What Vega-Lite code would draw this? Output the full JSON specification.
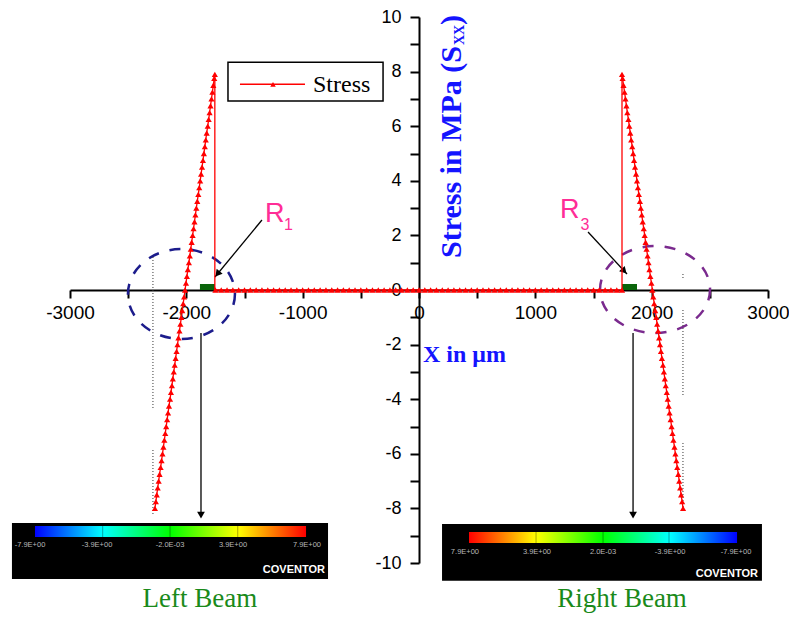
{
  "$schema": "https://vega.github.io/schema/vega-lite/v6.json",
  "width": 698,
  "height": 546,
  "autosize": {"type": "none"},
  "padding": {"left": 70, "top": 17, "right": 21, "bottom": 56},
  "background": "white",
  "config": {"view": {"stroke": null}},
  "datasets": {
    "curve": [
      {"x":-2270,"y":-8,"s":"L"},{"x":-2262,"y":-7.75,"s":"L"},{"x":-2254,"y":-7.5,"s":"L"},{"x":-2246,"y":-7.25,"s":"L"},
      {"x":-2238,"y":-7,"s":"L"},{"x":-2230,"y":-6.75,"s":"L"},{"x":-2221,"y":-6.5,"s":"L"},{"x":-2213,"y":-6.25,"s":"L"},
      {"x":-2205,"y":-6,"s":"L"},{"x":-2197,"y":-5.75,"s":"L"},{"x":-2189,"y":-5.5,"s":"L"},{"x":-2181,"y":-5.25,"s":"L"},
      {"x":-2173,"y":-5,"s":"L"},{"x":-2165,"y":-4.75,"s":"L"},{"x":-2157,"y":-4.5,"s":"L"},{"x":-2149,"y":-4.25,"s":"L"},
      {"x":-2140,"y":-4,"s":"L"},{"x":-2132,"y":-3.75,"s":"L"},{"x":-2124,"y":-3.5,"s":"L"},{"x":-2116,"y":-3.25,"s":"L"},
      {"x":-2108,"y":-3,"s":"L"},{"x":-2100,"y":-2.75,"s":"L"},{"x":-2092,"y":-2.5,"s":"L"},{"x":-2084,"y":-2.25,"s":"L"},
      {"x":-2076,"y":-2,"s":"L"},{"x":-2068,"y":-1.75,"s":"L"},{"x":-2059,"y":-1.5,"s":"L"},{"x":-2051,"y":-1.25,"s":"L"},
      {"x":-2043,"y":-1,"s":"L"},{"x":-2035,"y":-0.75,"s":"L"},{"x":-2027,"y":-0.5,"s":"L"},{"x":-2019,"y":-0.25,"s":"L"},
      {"x":-2011,"y":0,"s":"L"},{"x":-2003,"y":0.25,"s":"L"},{"x":-1995,"y":0.5,"s":"L"},{"x":-1987,"y":0.75,"s":"L"},
      {"x":-1978,"y":1,"s":"L"},{"x":-1970,"y":1.25,"s":"L"},{"x":-1962,"y":1.5,"s":"L"},{"x":-1954,"y":1.75,"s":"L"},
      {"x":-1946,"y":2,"s":"L"},{"x":-1938,"y":2.25,"s":"L"},{"x":-1930,"y":2.5,"s":"L"},{"x":-1922,"y":2.75,"s":"L"},
      {"x":-1914,"y":3,"s":"L"},{"x":-1906,"y":3.25,"s":"L"},{"x":-1897,"y":3.5,"s":"L"},{"x":-1889,"y":3.75,"s":"L"},
      {"x":-1881,"y":4,"s":"L"},{"x":-1873,"y":4.25,"s":"L"},{"x":-1865,"y":4.5,"s":"L"},{"x":-1857,"y":4.75,"s":"L"},
      {"x":-1849,"y":5,"s":"L"},{"x":-1841,"y":5.25,"s":"L"},{"x":-1833,"y":5.5,"s":"L"},{"x":-1825,"y":5.75,"s":"L"},
      {"x":-1816,"y":6,"s":"L"},{"x":-1808,"y":6.25,"s":"L"},{"x":-1800,"y":6.5,"s":"L"},{"x":-1792,"y":6.75,"s":"L"},
      {"x":-1784,"y":7,"s":"L"},{"x":-1776,"y":7.25,"s":"L"},{"x":-1768,"y":7.5,"s":"L"},{"x":-1760,"y":7.75,"s":"L"},
      {"x":-1755,"y":7.9,"s":"L"},
      {"x":-1755,"y":7.9,"s":"V1"},{"x":-1755,"y":0,"s":"V1"},
      {"x":-1750,"y":0,"s":"F"},{"x":-1700,"y":0,"s":"F"},{"x":-1650,"y":0,"s":"F"},{"x":-1600,"y":0,"s":"F"},
      {"x":-1550,"y":0,"s":"F"},{"x":-1500,"y":0,"s":"F"},{"x":-1450,"y":0,"s":"F"},{"x":-1400,"y":0,"s":"F"},
      {"x":-1350,"y":0,"s":"F"},{"x":-1300,"y":0,"s":"F"},{"x":-1250,"y":0,"s":"F"},{"x":-1200,"y":0,"s":"F"},
      {"x":-1150,"y":0,"s":"F"},{"x":-1100,"y":0,"s":"F"},{"x":-1050,"y":0,"s":"F"},{"x":-1000,"y":0,"s":"F"},
      {"x":-950,"y":0,"s":"F"},{"x":-900,"y":0,"s":"F"},{"x":-850,"y":0,"s":"F"},{"x":-800,"y":0,"s":"F"},
      {"x":-750,"y":0,"s":"F"},{"x":-700,"y":0,"s":"F"},{"x":-650,"y":0,"s":"F"},{"x":-600,"y":0,"s":"F"},
      {"x":-550,"y":0,"s":"F"},{"x":-500,"y":0,"s":"F"},{"x":-450,"y":0,"s":"F"},{"x":-400,"y":0,"s":"F"},
      {"x":-350,"y":0,"s":"F"},{"x":-300,"y":0,"s":"F"},{"x":-250,"y":0,"s":"F"},{"x":-200,"y":0,"s":"F"},
      {"x":-150,"y":0,"s":"F"},{"x":-100,"y":0,"s":"F"},{"x":-50,"y":0,"s":"F"},{"x":0,"y":0,"s":"F"},
      {"x":50,"y":0,"s":"F"},{"x":100,"y":0,"s":"F"},{"x":150,"y":0,"s":"F"},{"x":200,"y":0,"s":"F"},
      {"x":250,"y":0,"s":"F"},{"x":300,"y":0,"s":"F"},{"x":350,"y":0,"s":"F"},{"x":400,"y":0,"s":"F"},
      {"x":450,"y":0,"s":"F"},{"x":500,"y":0,"s":"F"},{"x":550,"y":0,"s":"F"},{"x":600,"y":0,"s":"F"},
      {"x":650,"y":0,"s":"F"},{"x":700,"y":0,"s":"F"},{"x":750,"y":0,"s":"F"},{"x":800,"y":0,"s":"F"},
      {"x":850,"y":0,"s":"F"},{"x":900,"y":0,"s":"F"},{"x":950,"y":0,"s":"F"},{"x":1000,"y":0,"s":"F"},
      {"x":1050,"y":0,"s":"F"},{"x":1100,"y":0,"s":"F"},{"x":1150,"y":0,"s":"F"},{"x":1200,"y":0,"s":"F"},
      {"x":1250,"y":0,"s":"F"},{"x":1300,"y":0,"s":"F"},{"x":1350,"y":0,"s":"F"},{"x":1400,"y":0,"s":"F"},
      {"x":1450,"y":0,"s":"F"},{"x":1500,"y":0,"s":"F"},{"x":1550,"y":0,"s":"F"},{"x":1600,"y":0,"s":"F"},
      {"x":1650,"y":0,"s":"F"},{"x":1700,"y":0,"s":"F"},{"x":1745,"y":0,"s":"F"},
      {"x":1745,"y":0,"s":"V2"},{"x":1745,"y":7.9,"s":"V2"},
      {"x":1745,"y":7.9,"s":"R"},
      {"x":1750,"y":7.75,"s":"R"},{"x":1758,"y":7.5,"s":"R"},{"x":1767,"y":7.25,"s":"R"},{"x":1775,"y":7,"s":"R"},
      {"x":1783,"y":6.75,"s":"R"},{"x":1791,"y":6.5,"s":"R"},{"x":1800,"y":6.25,"s":"R"},{"x":1808,"y":6,"s":"R"},
      {"x":1816,"y":5.75,"s":"R"},{"x":1824,"y":5.5,"s":"R"},{"x":1833,"y":5.25,"s":"R"},{"x":1841,"y":5,"s":"R"},
      {"x":1849,"y":4.75,"s":"R"},{"x":1857,"y":4.5,"s":"R"},{"x":1866,"y":4.25,"s":"R"},{"x":1874,"y":4,"s":"R"},
      {"x":1882,"y":3.75,"s":"R"},{"x":1890,"y":3.5,"s":"R"},{"x":1899,"y":3.25,"s":"R"},{"x":1907,"y":3,"s":"R"},
      {"x":1915,"y":2.75,"s":"R"},{"x":1923,"y":2.5,"s":"R"},{"x":1932,"y":2.25,"s":"R"},{"x":1940,"y":2,"s":"R"},
      {"x":1948,"y":1.75,"s":"R"},{"x":1956,"y":1.5,"s":"R"},{"x":1965,"y":1.25,"s":"R"},{"x":1973,"y":1,"s":"R"},
      {"x":1981,"y":0.75,"s":"R"},{"x":1989,"y":0.5,"s":"R"},{"x":1998,"y":0.25,"s":"R"},{"x":2006,"y":0,"s":"R"},
      {"x":2014,"y":-0.25,"s":"R"},{"x":2022,"y":-0.5,"s":"R"},{"x":2031,"y":-0.75,"s":"R"},{"x":2039,"y":-1,"s":"R"},
      {"x":2047,"y":-1.25,"s":"R"},{"x":2055,"y":-1.5,"s":"R"},{"x":2064,"y":-1.75,"s":"R"},{"x":2072,"y":-2,"s":"R"},
      {"x":2080,"y":-2.25,"s":"R"},{"x":2088,"y":-2.5,"s":"R"},{"x":2097,"y":-2.75,"s":"R"},{"x":2105,"y":-3,"s":"R"},
      {"x":2113,"y":-3.25,"s":"R"},{"x":2121,"y":-3.5,"s":"R"},{"x":2130,"y":-3.75,"s":"R"},{"x":2138,"y":-4,"s":"R"},
      {"x":2146,"y":-4.25,"s":"R"},{"x":2154,"y":-4.5,"s":"R"},{"x":2163,"y":-4.75,"s":"R"},{"x":2171,"y":-5,"s":"R"},
      {"x":2179,"y":-5.25,"s":"R"},{"x":2187,"y":-5.5,"s":"R"},{"x":2196,"y":-5.75,"s":"R"},{"x":2204,"y":-6,"s":"R"},
      {"x":2212,"y":-6.25,"s":"R"},{"x":2220,"y":-6.5,"s":"R"},{"x":2229,"y":-6.75,"s":"R"},{"x":2237,"y":-7,"s":"R"},
      {"x":2245,"y":-7.25,"s":"R"},{"x":2253,"y":-7.5,"s":"R"},{"x":2262,"y":-7.75,"s":"R"},{"x":2270,"y":-8,"s":"R"}
    ],
    "ell": [
      {"x": -2042, "y": -0.147, "e": "L"},
      {"x": 2029, "y": 0.018, "e": "R"}
    ],
    "dots": [
      {"x": -2287, "y": 1.209, "y2": -4.396},
      {"x": -2287, "y": -5.861, "y2": -8.242},
      {"x": 2269, "y": -0.733, "y2": -3.919},
      {"x": 2269, "y": -5.604, "y2": -8.059},
      {"x": 2269, "y": 0.586, "y2": 0.403}
    ],
    "cbox": [
      {"x": -3499, "x2": -782, "y": -8.535, "y2": -10.586},
      {"x": 198, "x2": 2948, "y": -8.571, "y2": -10.648}
    ],
    "grad": [
      {"x": -3301, "x2": -971, "y": -8.645, "y2": -9.048, "s": "L"},
      {"x": 430, "x2": 2734, "y": -8.864, "y2": -9.267, "s": "R"}
    ],
    "div": [
      {"x": -2719, "y": -8.645, "y2": -9.048},
      {"x": -2140, "y": -8.645, "y2": -9.048},
      {"x": -1558, "y": -8.645, "y2": -9.048},
      {"x": 1006, "y": -8.864, "y2": -9.267},
      {"x": 1582, "y": -8.864, "y2": -9.267},
      {"x": 2149, "y": -8.864, "y2": -9.267}
    ],
    "cbl": [
      {"x": -3344, "y": -9.34, "t": "-7.9E+00"},
      {"x": -2768, "y": -9.34, "t": "-3.9E+00"},
      {"x": -2140, "y": -9.34, "t": "-2.0E-03"},
      {"x": -1599, "y": -9.34, "t": "3.9E+00"},
      {"x": -963, "y": -9.34, "t": "7.9E+00"},
      {"x": 395, "y": -9.597, "t": "7.9E+00"},
      {"x": 1014, "y": -9.597, "t": "3.9E+00"},
      {"x": 1582, "y": -9.597, "t": "2.0E-03"},
      {"x": 2158, "y": -9.597, "t": "-3.9E+00"},
      {"x": 2725, "y": -9.597, "t": "-7.9E+00"}
    ],
    "cov": [
      {"x": -808, "y": -10.366, "t": "COVENTOR"},
      {"x": 2914, "y": -10.51, "t": "COVENTOR"}
    ],
    "arr": [
      {"x": -1350, "y": 2.564, "x2": -1754, "y2": 0.476},
      {"x": 1453, "y": 2.125, "x2": 1788, "y2": 0.586},
      {"x": -1874, "y": -1.575, "x2": -1874, "y2": -8.2},
      {"x": 1840, "y": -1.575, "x2": 1840, "y2": -8.2}
    ],
    "ah": [
      {"x": -1732, "y": 0.59, "a": 219.5},
      {"x": 1764, "y": 0.692, "a": 136.4},
      {"x": -1874, "y": -8.25, "a": 180},
      {"x": 1840, "y": -8.25, "a": 180}
    ],
    "grn": [
      {"x": -1883, "x2": -1754, "y": 0.22, "y2": 0},
      {"x": 1745, "x2": 1874, "y": 0.22, "y2": 0}
    ],
    "lgbox": [{"x": -1642, "x2": -309, "y": 8.341, "y2": 6.923}],
    "lgline": [{"x": -1539, "x2": -980, "y": 7.535}],
    "lgpt": [{"x": -1255, "y": 7.535}],
    "lgtxt": [{"x": -911, "y": 7.253, "t": "Stress"}],
    "rlab": [
      {"x": -1324, "y": 2.49, "t": "R", "fs": 27},
      {"x": -1160, "y": 2.198, "t": "1", "fs": 16},
      {"x": 1212, "y": 2.637, "t": "R", "fs": 27},
      {"x": 1388, "y": 2.198, "t": "3", "fs": 16}
    ],
    "ttl": [
      {"x": 34, "y": -2.637, "t": "X in μm", "fs": 24, "a": 0},
      {"x": 361, "y": 1.172, "t": "Stress in MPa (S", "fs": 30, "a": 270},
      {"x": 387, "y": 8.974, "t": "XX", "fs": 14, "a": 270},
      {"x": 361, "y": 9.707, "t": ")", "fs": 30, "a": 270}
    ],
    "beam": [
      {"x": -1883, "y": -11.61, "t": "Left Beam"},
      {"x": 1745, "y": -11.61, "t": "Right Beam"}
    ]
  },
  "encoding": {
    "x": {
      "field": "x", "type": "quantitative",
      "scale": {"domain": [-3000, 3000], "nice": false, "zero": false},
      "axis": {
        "title": null, "offset": -273, "grid": false,
        "values": [-3000, -2500, -2000, -1500, -1000, -500, 0, 500, 1000, 1500, 2000, 2500, 3000],
        "labelExpr": "datum.value % 1000 == 0 ? '' + datum.value : ''",
        "domainColor": "black", "domainWidth": 2, "tickColor": "black", "tickWidth": 2, "tickSize": 8,
        "labelFont": "Liberation Sans", "labelFontSize": 19, "labelColor": "black", "labelPadding": 5,
        "labelFlush": false, "labelOverlap": false
      }
    },
    "y": {
      "field": "y", "type": "quantitative",
      "scale": {"domain": [-10, 10], "nice": false, "zero": false},
      "axis": {
        "title": null, "offset": -349, "grid": false,
        "values": [-10, -9, -8, -7, -6, -5, -4, -3, -2, -1, 0, 1, 2, 3, 4, 5, 6, 7, 8, 9, 10],
        "labelExpr": "datum.value % 2 == 0 ? '' + datum.value : ''",
        "domainColor": "black", "domainWidth": 2, "tickColor": "black", "tickWidth": 2, "tickSize": 9,
        "labelFont": "Liberation Sans", "labelFontSize": 18, "labelColor": "black", "labelPadding": 9,
        "labelFlush": false, "labelOverlap": false
      }
    }
  },
  "layer": [
    {
      "data": {"name": "ell"},
      "transform": [{"filter": "datum.e == 'L'"}],
      "mark": {"type": "point", "shape": "M1,0C1,0.464,0.552,0.84,0,0.84C-0.552,0.84,-1,0.464,-1,0C-1,-0.464,-0.552,-0.84,0,-0.84C0.552,-0.84,1,-0.464,1,0Z", "size": 11449, "filled": false, "color": "#1c1c8c", "strokeWidth": 2.5, "strokeDash": [11, 11], "opacity": 1}
    },
    {
      "data": {"name": "ell"},
      "transform": [{"filter": "datum.e == 'R'"}],
      "mark": {"type": "point", "shape": "M1,0C1,0.437,0.552,0.79,0,0.79C-0.552,0.79,-1,0.437,-1,0C-1,-0.437,-0.552,-0.79,0,-0.79C0.552,-0.79,1,-0.437,1,0Z", "size": 12100, "filled": false, "color": "#7a2a8e", "strokeWidth": 2.5, "strokeDash": [11, 11], "opacity": 1}
    },
    {
      "data": {"name": "dots"},
      "mark": {"type": "rule", "color": "#333333", "strokeWidth": 1, "strokeDash": [1, 2]},
      "encoding": {"y2": {"field": "y2"}}
    },
    {
      "data": {"name": "cbox"},
      "mark": {"type": "rect", "color": "black"},
      "encoding": {"x2": {"field": "x2"}, "y2": {"field": "y2"}}
    },
    {
      "data": {"name": "grad"},
      "transform": [{"filter": "datum.s == 'L'"}],
      "mark": {"type": "rect", "fill": {"gradient": "linear", "x1": 0, "y1": 0, "x2": 1, "y2": 0, "stops": [
        {"offset": 0, "color": "#0000ff"}, {"offset": 0.25, "color": "#00ffff"}, {"offset": 0.5, "color": "#00ff00"}, {"offset": 0.75, "color": "#ffff00"}, {"offset": 1, "color": "#ff0000"}]}},
      "encoding": {"x2": {"field": "x2"}, "y2": {"field": "y2"}}
    },
    {
      "data": {"name": "grad"},
      "transform": [{"filter": "datum.s == 'R'"}],
      "mark": {"type": "rect", "fill": {"gradient": "linear", "x1": 0, "y1": 0, "x2": 1, "y2": 0, "stops": [
        {"offset": 0, "color": "#ff0000"}, {"offset": 0.25, "color": "#ffff00"}, {"offset": 0.5, "color": "#00ff00"}, {"offset": 0.75, "color": "#00ffff"}, {"offset": 1, "color": "#0000ff"}]}},
      "encoding": {"x2": {"field": "x2"}, "y2": {"field": "y2"}}
    },
    {
      "data": {"name": "div"},
      "mark": {"type": "rule", "color": "#000000", "opacity": 0.35, "strokeWidth": 1},
      "encoding": {"y2": {"field": "y2"}}
    },
    {
      "data": {"name": "cbl"},
      "mark": {"type": "text", "font": "Liberation Sans", "fontSize": 7.5, "color": "#b8b8b8", "align": "center", "baseline": "middle"},
      "encoding": {"text": {"field": "t"}}
    },
    {
      "data": {"name": "cov"},
      "mark": {"type": "text", "font": "Liberation Sans", "fontSize": 11, "fontWeight": "bold", "color": "white", "align": "right", "baseline": "alphabetic"},
      "encoding": {"text": {"field": "t"}}
    },
    {
      "data": {"name": "arr"},
      "mark": {"type": "rule", "color": "black", "strokeWidth": 1.3},
      "encoding": {"x2": {"field": "x2"}, "y2": {"field": "y2"}}
    },
    {
      "data": {"name": "ah"},
      "mark": {"type": "point", "shape": "triangle-up", "filled": true, "color": "black", "size": 60, "opacity": 1},
      "encoding": {"angle": {"field": "a", "type": "quantitative", "scale": null}}
    },
    {
      "data": {"name": "grn"},
      "mark": {"type": "rect", "color": "#0a640a"},
      "encoding": {"x2": {"field": "x2"}, "y2": {"field": "y2"}}
    },
    {
      "data": {"name": "curve"},
      "mark": {"type": "line", "color": "#ff0000", "strokeWidth": 1.3},
      "encoding": {"detail": {"field": "s"}}
    },
    {
      "data": {"name": "curve"},
      "transform": [{"filter": "datum.s == 'L' || datum.s == 'F' || datum.s == 'R'"}],
      "mark": {"type": "point", "shape": "triangle-up", "filled": true, "color": "#ff0000", "size": 38, "opacity": 1}
    },
    {
      "data": {"name": "lgbox"},
      "mark": {"type": "rect", "fill": "white", "stroke": "black", "strokeWidth": 1.5},
      "encoding": {"x2": {"field": "x2"}, "y2": {"field": "y2"}}
    },
    {
      "data": {"name": "lgline"},
      "mark": {"type": "rule", "color": "#ff0000", "strokeWidth": 1.5},
      "encoding": {"x2": {"field": "x2"}}
    },
    {
      "data": {"name": "lgpt"},
      "mark": {"type": "point", "shape": "triangle-up", "filled": true, "color": "#ff0000", "size": 30, "opacity": 1}
    },
    {
      "data": {"name": "lgtxt"},
      "mark": {"type": "text", "font": "Liberation Serif", "fontSize": 24, "color": "black", "align": "left", "baseline": "alphabetic"},
      "encoding": {"text": {"field": "t"}}
    },
    {
      "data": {"name": "rlab"},
      "mark": {"type": "text", "font": "Liberation Sans", "color": "#ff2d96", "align": "left", "baseline": "alphabetic"},
      "encoding": {"text": {"field": "t"}, "size": {"field": "fs", "type": "quantitative", "scale": null}}
    },
    {
      "data": {"name": "ttl"},
      "mark": {"type": "text", "font": "Liberation Serif", "fontWeight": "bold", "color": "#1414ff", "align": "left", "baseline": "alphabetic"},
      "encoding": {
        "text": {"field": "t"},
        "size": {"field": "fs", "type": "quantitative", "scale": null},
        "angle": {"field": "a", "type": "quantitative", "scale": null}
      }
    },
    {
      "data": {"name": "beam"},
      "mark": {"type": "text", "font": "Liberation Serif", "fontSize": 27, "color": "#1a8a1a", "align": "center", "baseline": "alphabetic"},
      "encoding": {"text": {"field": "t"}}
    }
  ]
}
